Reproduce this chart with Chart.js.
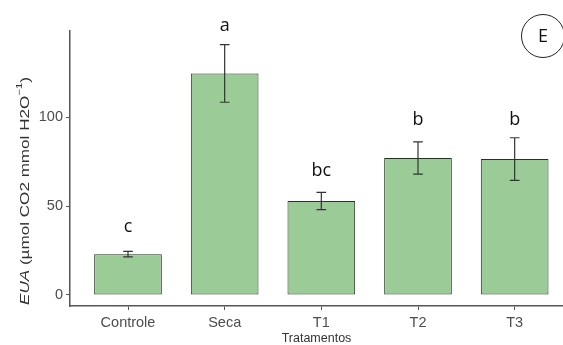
<!DOCTYPE html>
<html>
<head>
<meta charset="utf-8">
<script src="https://cdn.jsdelivr.net/npm/chart.js@4"></script>
<style>
  html, body { margin: 0; padding: 0; background: #fff; overflow: hidden; }
  canvas { display: block; }
</style>
</head>
<body>
<canvas id="graficoEUA" width="563" height="345"></canvas>
<script>
// dados
var tratamentos = ['Controle', 'Seca', 'T1', 'T2', 'T3'];
var medias = [23, 124.7, 52.9, 77.1, 76.5];
var erros = [1.6, 16.2, 4.9, 9.1, 12.0];
var letras = ['c', 'a', 'bc', 'b', 'b'];
var alturaLetras = [38.4, 151.4, 69.8, 98.6, 98.6];
var ticksY = [0, 50, 100];

var FONTE = '"Liberation Sans", Arial, sans-serif';
var FONTE_LETRAS = '"Open Sans", "Noto Sans", sans-serif';
var CINZA_EIXO = '#555555';

var Grafico = Grafico || {};

Grafico.Extras = {
	id: 'extras',
	afterDatasetsDraw: function(chart) {
		var ctx = chart.ctx;
		var x = chart.scales.x;
		var y = chart.scales.y;
		var meiaBarra = 0.05 * (x.getPixelForValue(2) - x.getPixelForValue(1));

		ctx.save();
		ctx.strokeStyle = '#333333';
		ctx.lineWidth = 1.2;
		medias.forEach(function(m, i) {
			var px = x.getPixelForValue(i + 1);
			var topo = y.getPixelForValue(m + erros[i]);
			var base = y.getPixelForValue(m - erros[i]);
			ctx.beginPath();
			ctx.moveTo(px, topo); ctx.lineTo(px, base);
			ctx.moveTo(px - meiaBarra, topo); ctx.lineTo(px + meiaBarra, topo);
			ctx.moveTo(px - meiaBarra, base); ctx.lineTo(px + meiaBarra, base);
			ctx.stroke();
		});

		// letras do teste de medias
		ctx.fillStyle = '#111111';
		ctx.font = '18px ' + FONTE_LETRAS;
		ctx.textAlign = 'center';
		ctx.textBaseline = 'middle';
		letras.forEach(function(l, i) {
			ctx.fillText(l, x.getPixelForValue(i + 1), y.getPixelForValue(alturaLetras[i]));
		});
		ctx.restore();
	},
	afterDraw: function(chart) {
		var ctx = chart.ctx;
		var area = chart.chartArea;

		// titulo do eixo y (EUA em italico, expoente -1)
		var partes = [
			{ t: 'EUA', f: 'italic 13.5px ' + FONTE, dy: 0 },
			{ t: ' (\u00b5mol CO2 mmol H2O', f: '13.5px ' + FONTE, dy: 0 },
			{ t: '\u22121', f: '9px ' + FONTE, dy: -5 },
			{ t: ')', f: '13.5px ' + FONTE, dy: 0 }
		];
		ctx.save();
		var total = 0;
		partes.forEach(function(p) { ctx.font = p.f; p.w = ctx.measureText(p.t).width; total += p.w; });
		var esticar = 228 / total;
		ctx.translate(25, 191);
		ctx.rotate(-Math.PI / 2);
		ctx.scale(esticar, 1);
		ctx.fillStyle = '#333333';
		ctx.textBaseline = 'middle';
		ctx.textAlign = 'left';
		var cx = -total / 2;
		partes.forEach(function(p) {
			ctx.font = p.f;
			ctx.fillText(p.t, cx, p.dy);
			cx += p.w;
		});
		ctx.restore();

		// marcador do painel
		ctx.save();
		ctx.strokeStyle = '#222222';
		ctx.lineWidth = 1;
		ctx.beginPath();
		ctx.arc(area.right - 20, 36, 21.5, 0, Math.PI * 2);
		ctx.stroke();
		ctx.fillStyle = '#111111';
		ctx.font = '18px ' + FONTE_LETRAS;
		ctx.textAlign = 'center';
		ctx.textBaseline = 'middle';
		ctx.fillText('E', area.right - 20, 37);
		ctx.restore();
	}
};

Grafico.iniciar = function() {
	var ctx = document.getElementById('graficoEUA').getContext('2d');
	var pontos = medias.map(function(m, i) { return { x: i + 1, y: m }; });

	return new Chart(ctx, {
		type: 'bar',
		data: {
			datasets: [{
				data: pontos,
				backgroundColor: '#9bcc97',
				borderColor: '#263226',
				borderWidth: 1,
				borderSkipped: false,
				categoryPercentage: 0.7,
				barPercentage: 1
			}]
		},
		options: {
			responsive: false,
			animation: false,
			layout: { padding: { top: 31, right: 0, left: 0, bottom: 0 } },
			plugins: { legend: { display: false }, tooltip: { enabled: false } },
			scales: {
				x: {
					type: 'linear',
					min: 0.4,
					max: 5.5,
					offset: false,
					afterBuildTicks: function(s) {
						s.ticks = tratamentos.map(function(t, i) { return { value: i + 1 }; });
					},
					afterFit: function(s) { s.height = 39; },
					ticks: {
						callback: function(v) { return tratamentos[Math.round(v) - 1]; },
						color: '#4d4d4d',
						font: { family: FONTE, size: 14.5 },
						padding: 4,
						maxRotation: 0,
						autoSkip: false
					},
					grid: { drawOnChartArea: false, drawTicks: true, tickLength: 4, tickColor: CINZA_EIXO, offset: false },
					border: { display: true, color: CINZA_EIXO, width: 1.5 },
					title: {
						display: true,
						text: 'Tratamentos',
						color: '#333333',
						font: { family: FONTE, size: 12.5, lineHeight: 1 },
						padding: { top: 0, bottom: 0 }
					}
				},
				y: {
					min: -6.2,
					max: 148.6,
					afterBuildTicks: function(s) {
						s.ticks = ticksY.map(function(v) { return { value: v }; });
					},
					afterFit: function(s) { s.width = 70; },
					ticks: {
						color: '#4d4d4d',
						font: { family: FONTE, size: 14.5 },
						padding: 3
					},
					grid: { drawOnChartArea: false, drawTicks: true, tickLength: 4, tickColor: CINZA_EIXO },
					border: { display: true, color: CINZA_EIXO, width: 1.5 }
				}
			}
		},
		plugins: [Grafico.Extras]
	});
};

Grafico.iniciar();
</script>
</body>
</html>
